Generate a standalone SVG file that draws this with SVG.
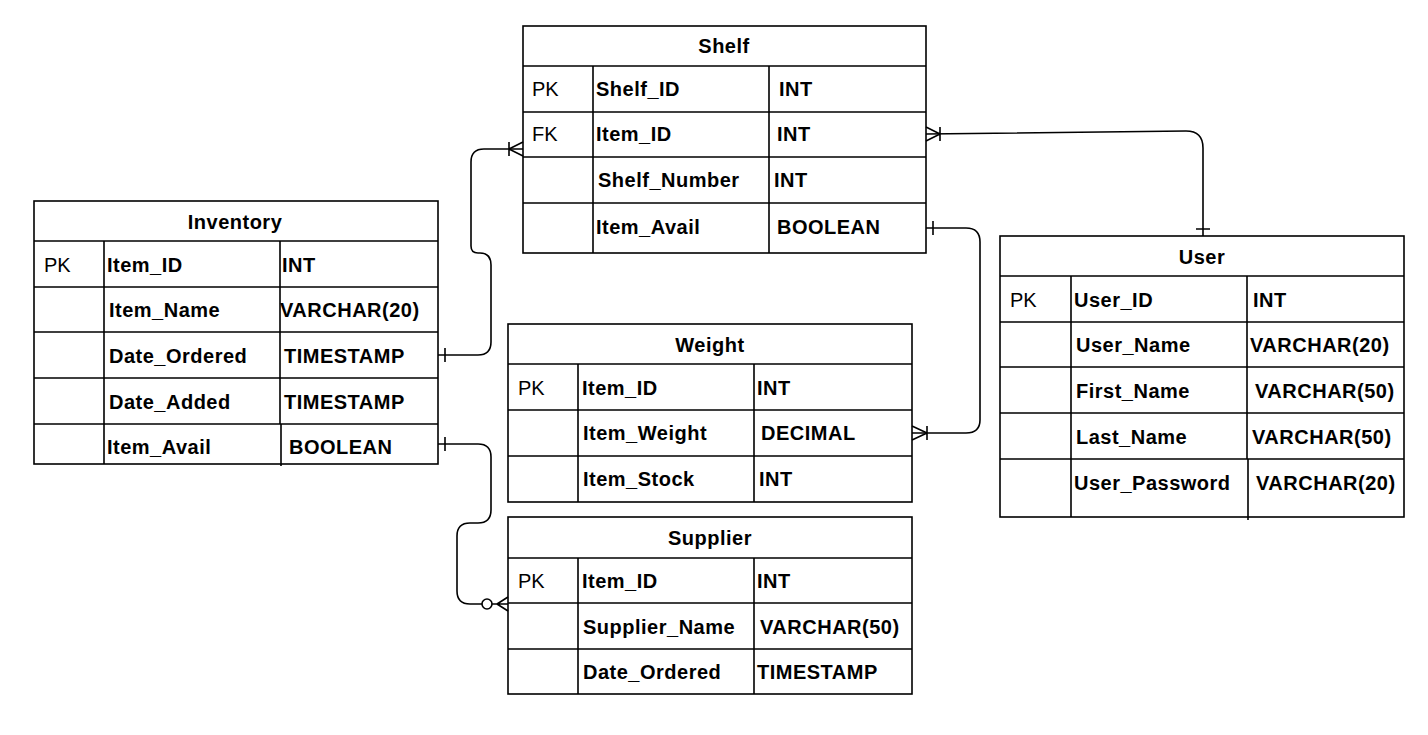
<svg xmlns="http://www.w3.org/2000/svg" width="1428" height="735" viewBox="0 0 1428 735">
<style>
.box{fill:#fff;stroke:#000;stroke-width:1.6}
.ln{stroke:#000;stroke-width:1.6;fill:none}
.t{font-family:"Liberation Sans",Arial,sans-serif;font-size:20px;fill:#000}
.b{font-weight:bold;letter-spacing:0.5px}
.c{text-anchor:middle}
.con{stroke:#000;stroke-width:1.6;fill:none}
</style>
<rect width="1428" height="735" fill="#fff"/>

<g id="shelf">
<rect class="box" x="523" y="26" width="403" height="227"/>
<path class="ln" d="M523,66H926M523,112H926M523,157H926M523,203H926M593,66V253M769,66V253"/>
<text class="t b c" x="724" y="53">Shelf</text>
<text class="t" x="532" y="96">PK</text><text class="t b" x="596" y="96">Shelf_ID</text><text class="t b" x="779" y="96">INT</text>
<text class="t" x="532" y="141">FK</text><text class="t b" x="596" y="141">Item_ID</text><text class="t b" x="777" y="141">INT</text>
<text class="t b" x="598" y="187">Shelf_Number</text><text class="t b" x="774" y="187">INT</text>
<text class="t b" x="596" y="234">Item_Avail</text><text class="t b" x="777" y="234">BOOLEAN</text>
</g>

<g id="inventory">
<rect class="box" x="34" y="201" width="404" height="263"/>
<path class="ln" d="M34,241H438M34,287H438M34,332H438M34,378H438M34,424H438M104,241V464M280,241V424M281,424V466"/>
<text class="t b c" x="235" y="229">Inventory</text>
<text class="t" x="44" y="272">PK</text><text class="t b" x="107" y="272">Item_ID</text><text class="t b" x="282" y="272">INT</text>
<text class="t b" x="109" y="317">Item_Name</text><text class="t b" x="280" y="317">VARCHAR(20)</text>
<text class="t b" x="109" y="363">Date_Ordered</text><text class="t b" x="284" y="363">TIMESTAMP</text>
<text class="t b" x="109" y="409">Date_Added</text><text class="t b" x="284" y="409">TIMESTAMP</text>
<text class="t b" x="107" y="454">Item_Avail</text><text class="t b" x="289" y="454">BOOLEAN</text>
</g>

<g id="user">
<rect class="box" x="1000" y="236" width="404" height="281"/>
<path class="ln" d="M1000,276H1404M1000,322H1404M1000,367H1404M1000,413H1404M1000,459H1404M1071,276V517M1247,276V459M1248,459V520"/>
<text class="t b c" x="1202" y="264">User</text>
<text class="t" x="1010" y="307">PK</text><text class="t b" x="1074" y="307">User_ID</text><text class="t b" x="1253" y="307">INT</text>
<text class="t b" x="1076" y="352">User_Name</text><text class="t b" x="1250" y="352">VARCHAR(20)</text>
<text class="t b" x="1076" y="398">First_Name</text><text class="t b" x="1255" y="398">VARCHAR(50)</text>
<text class="t b" x="1076" y="444">Last_Name</text><text class="t b" x="1252" y="444">VARCHAR(50)</text>
<text class="t b" x="1074" y="490">User_Password</text><text class="t b" x="1256" y="490">VARCHAR(20)</text>
</g>

<g id="weight">
<rect class="box" x="508" y="324" width="404" height="178"/>
<path class="ln" d="M508,364H912M508,410H912M508,456H912M578,364V502M754,364V502"/>
<text class="t b c" x="710" y="352">Weight</text>
<text class="t" x="518" y="395">PK</text><text class="t b" x="582" y="395">Item_ID</text><text class="t b" x="757" y="395">INT</text>
<text class="t b" x="583" y="440">Item_Weight</text><text class="t b" x="761" y="440">DECIMAL</text>
<text class="t b" x="583" y="486">Item_Stock</text><text class="t b" x="759" y="486">INT</text>
</g>

<g id="supplier">
<rect class="box" x="508" y="517" width="404" height="177"/>
<path class="ln" d="M508,558H912M508,603H912M508,649H912M578,558V694M754,558V694"/>
<text class="t b c" x="710" y="545">Supplier</text>
<text class="t" x="518" y="588">PK</text><text class="t b" x="582" y="588">Item_ID</text><text class="t b" x="757" y="588">INT</text>
<text class="t b" x="583" y="634">Supplier_Name</text><text class="t b" x="760" y="634">VARCHAR(50)</text>
<text class="t b" x="583" y="679">Date_Ordered</text><text class="t b" x="757" y="679">TIMESTAMP</text>
</g>

<g id="connectors">
<!-- Inventory.Date_Ordered -> Shelf.Item_ID -->
<path class="con" d="M438,355H478Q491,355 491,342V265Q491,253 480,253H478Q471,253 471,246V162Q471,149 484,149H523"/>
<path class="con" d="M445,348V362M509,142V156M509,149L523,142M509,149L523,156"/>
<!-- Shelf.Item_ID -> User -->
<path class="con" d="M926,134L1186,131Q1203,131 1203,148V236"/>
<path class="con" d="M940,127V141M940,134L926,127M940,134L926,141M1196,229H1210"/>
<!-- Shelf.Item_Avail -> Weight.Item_Weight -->
<path class="con" d="M926,228H966Q980,228 980,242V420Q980,433 966,433H912"/>
<path class="con" d="M933,221V235M927,426V440M927,433L912,426M927,433L912,440"/>
<!-- Inventory.Item_Avail -> Supplier.Item_ID -->
<path class="con" d="M438,444H478Q491,444 491,457V510Q491,523 478,523H470Q457,523 457,536V591Q457,604 470,604H482"/>
<path class="con" d="M445,437V451M492,604H508M497,604L508,597M497,604L508,611"/>
<circle class="con" cx="487" cy="604" r="5"/>
</g>
</svg>
